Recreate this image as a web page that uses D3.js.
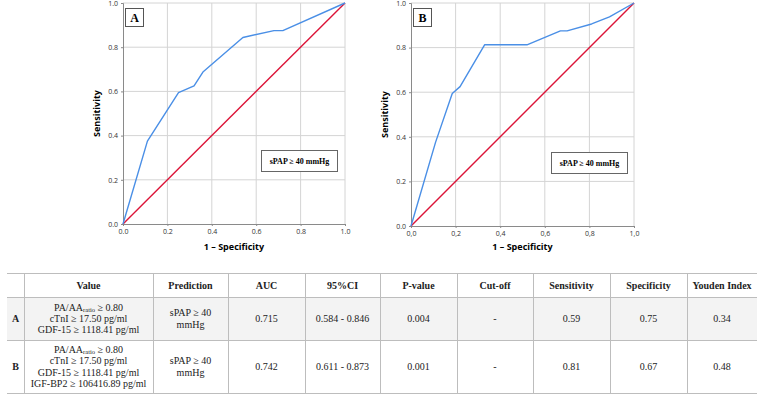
<!DOCTYPE html>
<html>
<head>
<meta charset="utf-8">
<script src="https://cdn.jsdelivr.net/npm/d3@7"></script>
<style>
  body { margin: 0; background: #fff; }
  svg { display: block; }
</style>
</head>
<body>
<div id="chart-area"></div>
<script>
// ROC curve points (1 - specificity, sensitivity)
var rocAx = [0, 0.11, 0.25, 0.32, 0.36, 0.54, 0.68, 0.72, 1];
var rocAy = [0, 0.375, 0.594, 0.625, 0.6875, 0.844, 0.875, 0.875, 1];
var rocBx = [0, 0.11, 0.185, 0.22, 0.33, 0.52, 0.67, 0.70, 0.81, 0.89, 1];
var rocBy = [0, 0.375, 0.594, 0.625, 0.8125, 0.8125, 0.875, 0.875, 0.906, 0.9375, 1];
var ticks = [0, 0.2, 0.4, 0.6, 0.8, 1.0];

// table
var columns = ["", "Value", "Prediction", "AUC", "95%CI", "P-value", "Cut-off", "Sensitivity", "Specificity", "Youden Index"];
var rowLabels = ["A", "B"];
var valueLines = [
    ["cTnI ≥ 17.50 pg/ml", "GDF-15 ≥ 1118.41 pg/ml"],
    ["cTnI ≥ 17.50 pg/ml", "GDF-15 ≥ 1118.41 pg/ml", "IGF-BP2 ≥ 106416.89 pg/ml"]
];
var predictionLines = ["sPAP ≥ 40", "mmHg"];
var auc = ["0.715", "0.742"];
var ci95 = ["0.584 - 0.846", "0.611 - 0.873"];
var pValue = ["0.004", "0.001"];
var cutOff = ["-", "-"];
var sensitivity = ["0.59", "0.81"];
var specificity = ["0.75", "0.67"];
var youden = ["0.34", "0.48"];

var svg = d3.select("#chart-area")
    .append("svg")
        .attr("width", 760)
        .attr("height", 395);

var blue = "#4a8fe6",
    red = "#dc1438",
    grid = "#d4d4d4";

function drawRoc(opts) {
    var x = d3.scaleLinear().domain([0, 1]).range([opts.left, opts.right]);
    var y = d3.scaleLinear().domain([0, 1]).range([opts.bottom, opts.top]);
    var g = svg.append("g");

    // grid
    g.selectAll(".gx").data(ticks.slice(1)).enter().append("line")
        .attr("x1", d => x(d)).attr("x2", d => x(d))
        .attr("y1", y(0)).attr("y2", y(1))
        .attr("stroke", grid).attr("stroke-width", 1);
    g.selectAll(".gy").data(ticks.slice(1)).enter().append("line")
        .attr("x1", x(0)).attr("x2", x(1))
        .attr("y1", d => y(d)).attr("y2", d => y(d))
        .attr("stroke", grid).attr("stroke-width", 1);

    var fmtX = d => opts.comma ? d.toFixed(1).replace(".", ",") : d.toFixed(1);
    var xAxis = g.append("g")
        .attr("transform", "translate(0," + y(0) + ")")
        .call(d3.axisBottom(x).tickValues(ticks).tickSize(2).tickFormat(fmtX));
    var yAxis = g.append("g")
        .attr("transform", "translate(" + x(0) + ",0)")
        .call(d3.axisLeft(y).tickValues(ticks).tickSize(2).tickFormat(d => d.toFixed(1)));
    [xAxis, yAxis].forEach(a => {
        a.select(".domain").attr("stroke", "#8a8a8a");
        a.selectAll(".tick line").attr("stroke", "#8a8a8a");
        a.selectAll("text").attr("font-family", "Open Sans, sans-serif")
            .attr("font-size", "7px").attr("fill", "#333");
    });
    xAxis.selectAll("text").attr("y", 5);

    // reference diagonal and curve
    var line = d3.line().x(d => x(d[0])).y(d => y(d[1]));
    g.append("path")
        .attr("d", line([[0, 0], [1, 1]]))
        .attr("fill", "none").attr("stroke", red).attr("stroke-width", 1.4);
    g.append("path")
        .attr("d", line(d3.zip(opts.xs, opts.ys)))
        .attr("fill", "none").attr("stroke", blue).attr("stroke-width", 1.4)
        .attr("stroke-linejoin", "round");

    // axis titles
    g.append("text")
        .attr("x", (opts.left + opts.right) / 2)
        .attr("y", 250)
        .attr("text-anchor", "middle")
        .attr("font-family", "Open Sans, sans-serif")
        .attr("font-size", "9px").attr("font-weight", "bold")
        .text("1 – Specificity");
    g.append("text")
        .attr("transform", "translate(" + opts.ylabX + "," + (opts.top + opts.bottom) / 2 + ") rotate(-90)")
        .attr("text-anchor", "middle")
        .attr("font-family", "Open Sans, sans-serif")
        .attr("font-size", "9px").attr("font-weight", "bold")
        .text("Sensitivity");

    // panel letter box
    g.append("rect")
        .attr("x", opts.left + 2.5).attr("y", 8.5)
        .attr("width", 18).attr("height", 18)
        .attr("fill", "#fff").attr("stroke", "#555").attr("stroke-width", 1);
    g.append("text")
        .attr("x", opts.left + 11.5).attr("y", 21.5)
        .attr("text-anchor", "middle")
        .attr("font-family", "Liberation Serif, serif")
        .attr("font-size", "12px").attr("font-weight", "bold")
        .text(opts.letter);

    // legend box
    g.append("rect")
        .attr("x", opts.boxX + 0.5).attr("y", opts.boxY + 0.5)
        .attr("width", 76).attr("height", 21)
        .attr("fill", "#fff").attr("stroke", "#666").attr("stroke-width", 1);
    g.append("text")
        .attr("x", opts.boxX + 38.5).attr("y", opts.boxY + 14)
        .attr("text-anchor", "middle")
        .attr("font-family", "Liberation Serif, serif")
        .attr("font-size", "8px").attr("font-weight", "bold")
        .text("sPAP ≥ 40 mmHg");
}

drawRoc({ left: 123, right: 345, top: 3, bottom: 224, xs: rocAx, ys: rocAy,
          comma: false, letter: "A", ylabX: 100, boxX: 261, boxY: 150 });
drawRoc({ left: 411, right: 634, top: 3, bottom: 226, xs: rocBx, ys: rocBy,
          comma: true, letter: "B", ylabX: 388, boxX: 551, boxY: 152 });

// ---- table ----
var colEdges = [7, 24, 153, 228, 305, 380, 457, 533, 610, 687, 757];
var rowEdges = [273, 297, 340, 393];
var tg = svg.append("g");
var serif = "Liberation Serif, serif";

// row A shading
tg.append("rect")
    .attr("x", colEdges[0]).attr("y", rowEdges[1])
    .attr("width", colEdges[colEdges.length - 1] - colEdges[0])
    .attr("height", rowEdges[2] - rowEdges[1])
    .attr("fill", "#f3f3f3");

tg.selectAll(".hl").data(rowEdges).enter().append("line")
    .attr("x1", colEdges[0]).attr("x2", colEdges[colEdges.length - 1])
    .attr("y1", d => d + 0.5).attr("y2", d => d + 0.5)
    .attr("stroke", "#bdbdbd");
tg.selectAll(".vl").data(colEdges.slice(1, -1)).enter().append("line")
    .attr("x1", d => d + 0.5).attr("x2", d => d + 0.5)
    .attr("y1", rowEdges[0]).attr("y2", rowEdges[rowEdges.length - 1])
    .attr("stroke", "#bdbdbd");

function colMid(i) { return (colEdges[i] + colEdges[i + 1]) / 2; }

// header
tg.selectAll(".hd").data(columns).enter().append("text")
    .attr("x", (d, i) => colMid(i))
    .attr("y", 289)
    .attr("text-anchor", "middle")
    .attr("font-family", serif).attr("font-size", "10px").attr("font-weight", "bold")
    .attr("fill", "#222")
    .text(d => d);

function cellText(col, row, lines) {
    var mid = (rowEdges[row + 1] + rowEdges[row + 2]) / 2;
    var lh = 11.3;
    var y0 = mid - (lines.length - 1) * lh / 2 + 3.5;
    lines.forEach((t, k) => {
        tg.append("text")
            .attr("x", colMid(col))
            .attr("y", y0 + k * lh)
            .attr("text-anchor", "middle")
            .attr("font-family", serif).attr("font-size", "10px")
            .attr("fill", "#222")
            .text(t);
    });
}

rowLabels.forEach((lab, r) => {
    var mid = (rowEdges[r + 1] + rowEdges[r + 2]) / 2;
    tg.append("text")
        .attr("x", colMid(0)).attr("y", mid + 3.5)
        .attr("text-anchor", "middle")
        .attr("font-family", serif).attr("font-size", "10px").attr("font-weight", "bold")
        .attr("fill", "#222")
        .text(lab);

    // value column: first line has the "ratio" subscript
    var lines = valueLines[r];
    var n = lines.length + 1;
    var lh = 11.3;
    var y0 = mid - (n - 1) * lh / 2 + 3.5;
    var first = tg.append("text")
        .attr("x", colMid(1)).attr("y", y0)
        .attr("text-anchor", "middle")
        .attr("font-family", serif).attr("font-size", "10px")
        .attr("fill", "#222");
    first.append("tspan").text("PA/AA");
    first.append("tspan").attr("font-size", "6.5px").attr("dy", 1).text("ratio");
    first.append("tspan").attr("dy", -1).text(" ≥ 0.80");
    lines.forEach((t, k) => {
        tg.append("text")
            .attr("x", colMid(1)).attr("y", y0 + (k + 1) * lh)
            .attr("text-anchor", "middle")
            .attr("font-family", serif).attr("font-size", "10px")
            .attr("fill", "#222")
            .text(t);
    });

    cellText(2, r, predictionLines);
    cellText(3, r, [auc[r]]);
    cellText(4, r, [ci95[r]]);
    cellText(5, r, [pValue[r]]);
    cellText(6, r, [cutOff[r]]);
    cellText(7, r, [sensitivity[r]]);
    cellText(8, r, [specificity[r]]);
    cellText(9, r, [youden[r]]);
});
</script>
</body>
</html>
